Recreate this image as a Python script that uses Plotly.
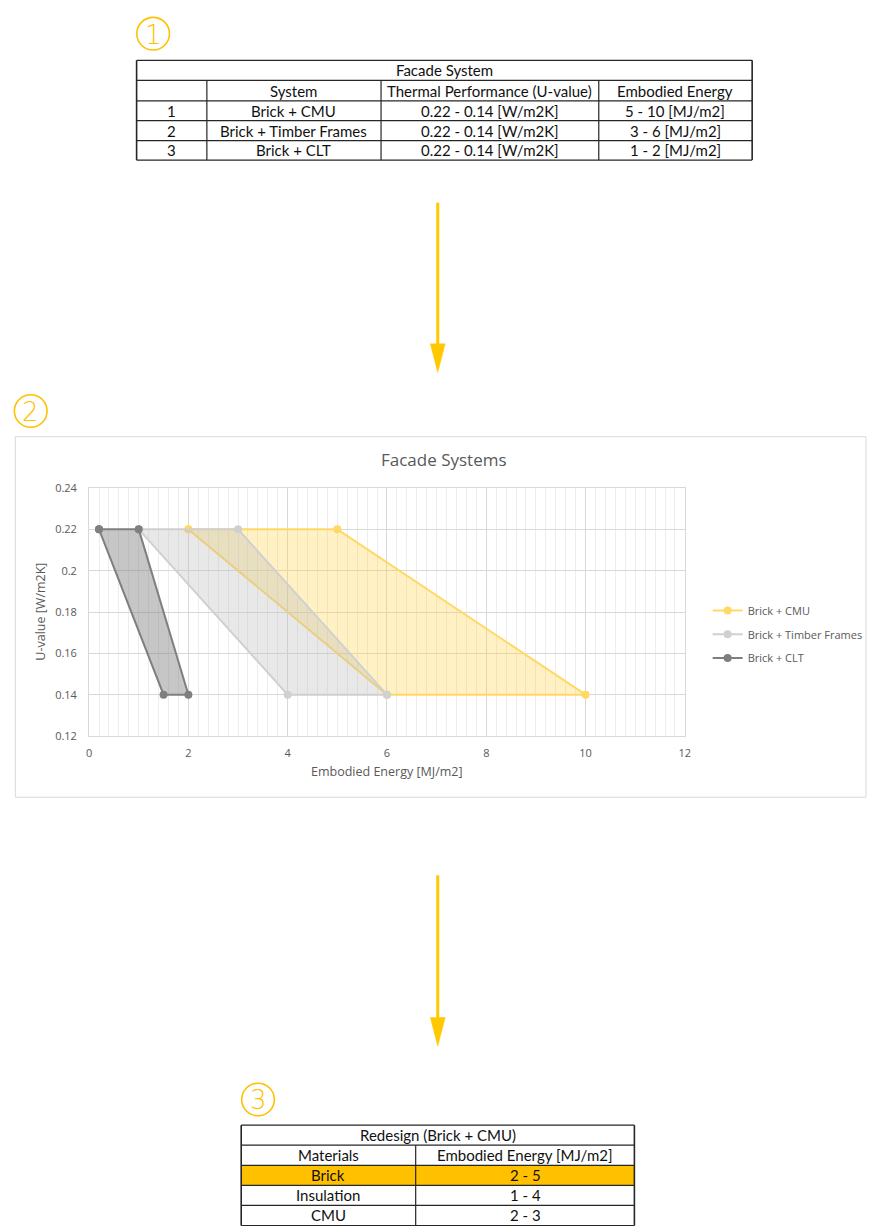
import plotly.graph_objects as go

W, H = 869, 1226

# ---------------- data ----------------
systems = ["Brick + CMU", "Brick + Timber Frames", "Brick + CLT"]
u_values = [0.22, 0.22, 0.14, 0.14, 0.22]
energy_cmu = [2, 5, 10, 6, 2]
energy_timber = [1, 3, 6, 4, 1]
energy_clt = [0.2, 1, 2, 1.5, 0.2]

x_ticks = [0, 2, 4, 6, 8, 10, 12]
y_ticks = [0.12, 0.14, 0.16, 0.18, 0.2, 0.22, 0.24]
y_tick_labels = ["0.12", "0.14", "0.16", "0.18", "0.2", "0.22", "0.24"]

t1_title = "Facade System"
t1_header = ["", "System", "Thermal Performance (U-value)", "Embodied Energy"]
t1_ids = ["1", "2", "3"]
t1_systems = systems
t1_uvalue = ["0.22 - 0.14 [W/m2K]", "0.22 - 0.14 [W/m2K]", "0.22 - 0.14 [W/m2K]"]
t1_energy = ["5 - 10 [MJ/m2]", "3 - 6 [MJ/m2]", "1 - 2 [MJ/m2]"]

t3_title = "Redesign (Brick + CMU)"
t3_header = ["Materials", "Embodied Energy [MJ/m2]"]
t3_materials = ["Brick", "Insulation", "CMU"]
t3_energy = ["2 - 5", "1 - 4", "2 - 3"]
t3_highlight = "Brick"

# ---------------- styling ----------------
GOLD = "#FFC000"
ARROW = "#FFC800"
TXT = "#595959"
TFONT = "Lato"
CFONT = "Open Sans"
TSIZE = 15


def fx(x):
    return x / W


def fy(y):
    return 1 - y / H


shapes = []
annotations = []


def hline(x0, x1, y, w=1.2, c="#262626"):
    shapes.append(dict(type="line", xref="paper", yref="paper", x0=fx(x0), x1=fx(x1),
                       y0=fy(y), y1=fy(y), line=dict(color=c, width=w)))


def vline(x, y0, y1, w=1.2, c="#262626"):
    shapes.append(dict(type="line", xref="paper", yref="paper", x0=fx(x), x1=fx(x),
                       y0=fy(y0), y1=fy(y1), line=dict(color=c, width=w)))


def text(x, y, s, size=TSIZE, color="#111111", font=TFONT, **kw):
    annotations.append(dict(xref="paper", yref="paper", x=fx(x), y=fy(y), text=s,
                            showarrow=False, xanchor="center", yanchor="middle",
                            font=dict(family=font, size=size, color=color), **kw))


def circled(cx, cy, digit):
    r = 16.5
    shapes.append(dict(type="circle", xref="paper", yref="paper",
                       x0=fx(cx - r), x1=fx(cx + r), y0=fy(cy + r), y1=fy(cy - r),
                       line=dict(color=GOLD, width=1.6)))
    annotations.append(dict(xref="paper", yref="paper", x=fx(cx), y=fy(cy + 1), text=digit,
                            showarrow=False, xanchor="center", yanchor="middle",
                            font=dict(family="DejaVu Sans", size=26, color=GOLD, weight=200)))


def arrow(x, y0, yhead, ytip, half=7.5):
    shapes.append(dict(type="line", xref="paper", yref="paper", x0=fx(x), x1=fx(x),
                       y0=fy(y0), y1=fy(yhead + 2), line=dict(color=ARROW, width=3)))
    path = "M {a},{b} L {c},{d} L {e},{f} Z".format(
        a=fx(x - half), b=fy(yhead), c=fx(x + half), d=fy(yhead), e=fx(x), f=fy(ytip))
    shapes.append(dict(type="path", xref="paper", yref="paper", path=path,
                       fillcolor=ARROW, line=dict(color=ARROW, width=0.5)))


# ---------------- table 1 ----------------
circled(151.7, 26, "1")
t1_cols = [135, 206, 382, 602, 757]
t1_rows = [53, 73.3, 94, 114, 134.3, 154]
for y in t1_rows:
    hline(t1_cols[0], t1_cols[-1], y)
vline(t1_cols[0], t1_rows[0], t1_rows[-1], w=1.6)
vline(t1_cols[-1], t1_rows[0], t1_rows[-1], w=1.6)
for x in t1_cols[1:-1]:
    vline(x, t1_rows[1], t1_rows[-1])
text((t1_cols[0] + t1_cols[-1]) / 2, (t1_rows[0] + t1_rows[1]) / 2, t1_title)
for i, h in enumerate(t1_header):
    text((t1_cols[i] + t1_cols[i + 1]) / 2, (t1_rows[1] + t1_rows[2]) / 2, h)
for r in range(3):
    yc = (t1_rows[r + 2] + t1_rows[r + 3]) / 2
    vals = [t1_ids[r], t1_systems[r], t1_uvalue[r], t1_energy[r]]
    for i, v in enumerate(vals):
        text((t1_cols[i] + t1_cols[i + 1]) / 2, yc, v)

arrow(439.3, 197, 340, 369)

# ---------------- chart frame ----------------
circled(28, 408, "2")
shapes.append(dict(type="rect", xref="paper", yref="paper", x0=fx(12.5), x1=fx(872),
                   y0=fy(799), y1=fy(434), line=dict(color="#D9D9D9", width=1), layer="below"))
text(446, 457, "Facade Systems", size=17, color=TXT, font=CFONT)
text(388, 773, "Embodied Energy [MJ/m2]", size=12.5, color=TXT, font=CFONT)
text(37, 611.5, "U-value [W/m2K]", size=12.5, color=TXT, font=CFONT, textangle=-90)

arrow(439.3, 878, 1022, 1051)

# ---------------- table 3 ----------------
circled(257.7, 1105, "3")
t3_cols = [240.7, 417, 638]
t3_rows = [1131, 1151.3, 1171.7, 1192, 1212.3, 1232.6]
hi = t3_materials.index(t3_highlight)
shapes.append(dict(type="rect", xref="paper", yref="paper", x0=fx(t3_cols[0]), x1=fx(t3_cols[-1]),
                   y0=fy(t3_rows[hi + 3]), y1=fy(t3_rows[hi + 2]), fillcolor=GOLD,
                   line=dict(width=0)))
for y in t3_rows:
    hline(t3_cols[0], t3_cols[-1], y)
vline(t3_cols[0], t3_rows[0], t3_rows[-1], w=1.6)
vline(t3_cols[-1], t3_rows[0], t3_rows[-1], w=1.6)
vline(t3_cols[1], t3_rows[1], t3_rows[-1])
text((t3_cols[0] + t3_cols[-1]) / 2, (t3_rows[0] + t3_rows[1]) / 2, t3_title)
for i, h in enumerate(t3_header):
    text((t3_cols[i] + t3_cols[i + 1]) / 2, (t3_rows[1] + t3_rows[2]) / 2, h)
for r in range(3):
    yc = (t3_rows[r + 2] + t3_rows[r + 3]) / 2
    text((t3_cols[0] + t3_cols[1]) / 2, yc, t3_materials[r])
    text((t3_cols[1] + t3_cols[2]) / 2, yc, t3_energy[r])

# ---------------- chart traces ----------------
series = [
    (systems[0], energy_cmu, "#FFD966", "rgba(255,210,60,0.30)", "legend"),
    (systems[1], energy_timber, "#D0D0D0", "rgba(190,190,190,0.35)", "legend2"),
    (systems[2], energy_clt, "#7F7F7F", "rgba(128,128,128,0.45)", "legend3"),
]

fig = go.Figure()
for name, ex, lc, fc, lg in series:
    fig.add_trace(go.Scatter(x=ex, y=u_values, mode="lines+markers", fill="toself",
                             fillcolor=fc, line=dict(color=lc, width=2),
                             marker=dict(color=lc, size=8), showlegend=False, name=name,
                             hoverinfo="skip"))
for name, ex, lc, fc, lg in series:
    fig.add_trace(go.Scatter(x=[None], y=[None], mode="lines+markers", name=name,
                             line=dict(color=lc, width=2), marker=dict(color=lc, size=8),
                             legend=lg, showlegend=True))

leg_common = dict(xref="paper", yref="paper", xanchor="left", yanchor="middle",
                  bgcolor="rgba(0,0,0,0)", font=dict(family=CFONT, size=11, color=TXT),
                  itemwidth=30)
leg_y = [610, 634, 658]
fig.update_layout(
    width=W, height=H, autosize=False,
    margin=dict(l=0, r=0, t=0, b=0),
    paper_bgcolor="white", plot_bgcolor="white",
    shapes=shapes, annotations=annotations,
    legend=dict(x=fx(712), y=fy(leg_y[0]), **leg_common),
    legend2=dict(x=fx(712), y=fy(leg_y[1]), **leg_common),
    legend3=dict(x=fx(712), y=fy(leg_y[2]), **leg_common),
    xaxis=dict(domain=[fx(87), fx(689)], range=[0, 12], tickvals=x_ticks,
               showgrid=True, gridcolor="#D9D9D9", gridwidth=1,
               minor=dict(dtick=0.2, showgrid=True, gridcolor="#EDEDED", gridwidth=1),
               showline=True, linecolor="#D9D9D9", mirror=True, zeroline=False,
               ticks="outside", ticklen=7, tickcolor="rgba(0,0,0,0)",
               tickfont=dict(family=CFONT, size=11, color=TXT), fixedrange=True),
    yaxis=dict(domain=[fy(737), fy(486)], range=[0.12, 0.24], tickvals=y_ticks,
               ticktext=y_tick_labels, showgrid=True, gridcolor="#D9D9D9", gridwidth=1,
               showline=True, linecolor="#D9D9D9", mirror=True, zeroline=False,
               ticks="outside", ticklen=9, tickcolor="rgba(0,0,0,0)",
               tickfont=dict(family=CFONT, size=11, color=TXT), fixedrange=True),
)

post = (
    "document.documentElement.style.margin='0';"
    "document.documentElement.style.overflow='hidden';"
    "document.body.style.margin='0';"
    "document.body.style.overflow='hidden';"
)
fig.write_html("out.html", config={"displayModeBar": False}, post_script=post)
